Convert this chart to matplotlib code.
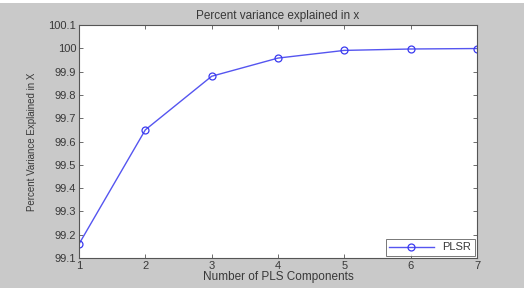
import matplotlib
matplotlib.use("Agg")
import matplotlib.pyplot as plt
from matplotlib.patches import Rectangle

components = [1, 2, 3, 4, 5, 6, 7]
pct_var_x = [99.16, 99.65, 99.88, 99.958, 99.991, 99.997, 99.999]
yticks = [99.1, 99.2, 99.3, 99.4, 99.5, 99.6, 99.7, 99.8, 99.9, 100.0, 100.1]
ytick_labels = ["99.1", "99.2", "99.3", "99.4", "99.5", "99.6", "99.7", "99.8", "99.9", "100", "100.1"]

plt.rcParams['font.family'] = ['Liberation Sans', 'DejaVu Sans']
bg = '#c9c9c9'
txt = '#383838'

fig = plt.figure(figsize=(5.24, 2.88), dpi=100, facecolor=bg)
fig.patches.append(Rectangle((0, 1 - 3/288), 1, 3/288, transform=fig.transFigure,
                             facecolor='white', edgecolor='none', zorder=0))
ax = fig.add_axes([79/524, 30/288, 398/524, 233/288])
ax.plot(components, pct_var_x, color='#5555f0', lw=1.0, marker='o', ms=5,
        mfc='none', mec='#3a3af0', mew=0.9, label='PLSR')
ax.set_xlim(1, 7)
ax.set_ylim(99.1, 100.1)
ax.set_xticks(components)
ax.set_yticks(yticks)
ax.set_yticklabels(ytick_labels)
ax.tick_params(direction='in', length=3, width=0.6, labelsize=8, colors='#555555',
               labelcolor=txt, top=True, right=True, pad=2)
for s in ax.spines.values():
    s.set_color('#555555')
    s.set_linewidth(0.8)
ax.set_title('Percent variance explained in x', fontsize=8.5, color=txt, pad=4)
ax.set_xlabel('Number of PLS Components', fontsize=8.5, color=txt, labelpad=0)
ax.set_ylabel('Percent Variance Explained in X', fontsize=7, color=txt, labelpad=8)
leg = ax.legend(loc='lower right', fontsize=8, frameon=True, fancybox=False,
                borderaxespad=0.2, handlelength=4, labelcolor=txt,
                borderpad=0.3, handletextpad=0.8)
leg.get_frame().set_edgecolor('#555555')
leg.get_frame().set_linewidth(0.7)
fig.savefig('out.png', dpi=100, facecolor=bg)
